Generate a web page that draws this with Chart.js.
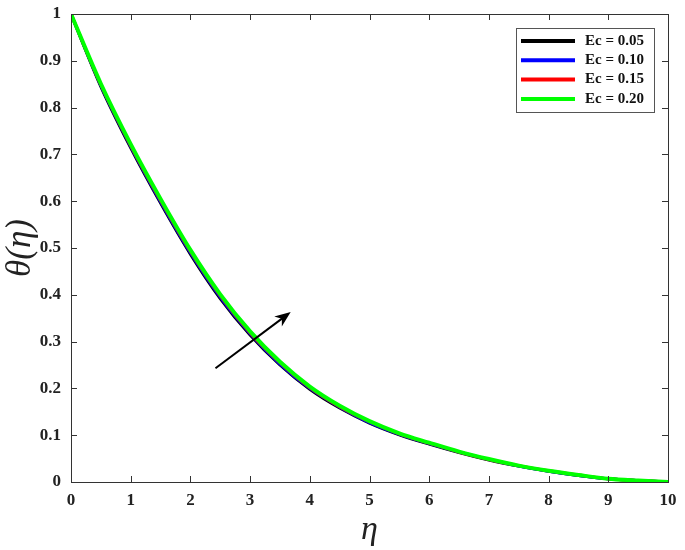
<!DOCTYPE html>
<html>
<head>
<meta charset="UTF-8">
<title>theta vs eta</title>
<script src="https://cdn.jsdelivr.net/npm/chart.js"></script>
<style>
  html, body { margin: 0; padding: 0; background: #fff; }
  #wrap { width: 685px; height: 550px; }
</style>
</head>
<body>
<div id="wrap"><canvas id="c"></canvas></div>
<script>
// --- data ---
const eta = [0, 0.5, 1, 1.5, 2, 2.5, 3, 3.5, 4, 4.5, 5, 5.5, 6, 6.5, 7, 7.5, 8, 8.5, 9, 9.5, 10];
const ec005 = [1.000, 0.845, 0.714, 0.596, 0.487, 0.392, 0.314, 0.250, 0.198, 0.158, 0.126, 0.101, 0.081, 0.063, 0.047, 0.034, 0.023, 0.014, 0.007, 0.003, 0.000];
const ec010 = [1.000, 0.847, 0.717, 0.599, 0.490, 0.395, 0.317, 0.252, 0.200, 0.160, 0.127, 0.102, 0.082, 0.064, 0.048, 0.034, 0.023, 0.014, 0.007, 0.003, 0.000];
const ec015 = [1.000, 0.849, 0.719, 0.602, 0.493, 0.398, 0.319, 0.255, 0.202, 0.161, 0.129, 0.103, 0.083, 0.064, 0.048, 0.035, 0.024, 0.015, 0.007, 0.003, 0.000];
const ec020 = [1.000, 0.851, 0.722, 0.605, 0.496, 0.401, 0.322, 0.257, 0.204, 0.163, 0.130, 0.104, 0.084, 0.065, 0.049, 0.035, 0.024, 0.015, 0.007, 0.003, 0.000];
const seriesLabels = ['Ec = 0.05', 'Ec = 0.10', 'Ec = 0.15', 'Ec = 0.20'];
const seriesColors = ['#000000', '#0000ff', '#ff0000', '#00ff00'];
const yTickLabels = ['0', '0.1', '0.2', '0.3', '0.4', '0.5', '0.6', '0.7', '0.8', '0.9', '1'];
const xTickLabels = ['0', '1', '2', '3', '4', '5', '6', '7', '8', '9', '10'];
// arrow showing increasing Ec (data coords)
const arrowFrom = { x: 2.42, y: 0.243 };
const arrowTo = { x: 3.68, y: 0.363 };

const serif = '"Liberation Serif", "Times New Roman", serif';
const axisCol = '#333333';

const pts = ys => eta.map((x, i) => ({ x: x, y: ys[i] }));
const allSeries = [ec005, ec010, ec015, ec020];

// box, inward ticks, arrow and legend
const decor = {
  id: 'decor',
  afterDatasetsDraw(chart) {
    const { ctx, chartArea: a, scales: { x, y } } = chart;
    ctx.save();
    // arrow
    const x0 = x.getPixelForValue(arrowFrom.x), y0 = y.getPixelForValue(arrowFrom.y);
    const x1 = x.getPixelForValue(arrowTo.x), y1 = y.getPixelForValue(arrowTo.y);
    const ang = Math.atan2(y1 - y0, x1 - x0);
    ctx.strokeStyle = '#000'; ctx.fillStyle = '#000'; ctx.lineWidth = 2;
    ctx.beginPath(); ctx.moveTo(x0, y0);
    ctx.lineTo(x1 - 8 * Math.cos(ang), y1 - 8 * Math.sin(ang)); ctx.stroke();
    ctx.beginPath();
    ctx.moveTo(x1, y1);
    ctx.lineTo(x1 - 17 * Math.cos(ang - 0.38), y1 - 17 * Math.sin(ang - 0.38));
    ctx.lineTo(x1 - 11 * Math.cos(ang), y1 - 11 * Math.sin(ang));
    ctx.lineTo(x1 - 17 * Math.cos(ang + 0.38), y1 - 17 * Math.sin(ang + 0.38));
    ctx.closePath(); ctx.fill();

    // axes box
    ctx.strokeStyle = axisCol; ctx.lineWidth = 1;
    ctx.strokeRect(a.left + 0.5, a.top + 0.5, a.right - a.left, a.bottom - a.top);
    // inward ticks
    ctx.beginPath();
    x.ticks.forEach(t => {
      const px = Math.round(x.getPixelForValue(t.value)) + 0.5;
      ctx.moveTo(px, a.bottom); ctx.lineTo(px, a.bottom - 6);
      ctx.moveTo(px, a.top); ctx.lineTo(px, a.top + 6);
    });
    y.ticks.forEach(t => {
      const py = Math.round(y.getPixelForValue(t.value)) + 0.5;
      ctx.moveTo(a.left, py); ctx.lineTo(a.left + 6, py);
      ctx.moveTo(a.right, py); ctx.lineTo(a.right - 6, py);
    });
    ctx.stroke();

    // legend box
    const lx = a.right - 152, ly = a.top + 14, lw = 138, lh = 84;
    ctx.fillStyle = '#fff';
    ctx.fillRect(lx, ly, lw, lh);
    ctx.strokeStyle = '#555'; ctx.lineWidth = 1;
    ctx.strokeRect(lx + 0.5, ly + 0.5, lw, lh);
    ctx.font = 'bold 15px ' + serif;
    ctx.textBaseline = 'middle';
    chart.data.datasets.forEach((ds, i) => {
      const ry = ly + 13 + i * 19.3;
      ctx.strokeStyle = ds.borderColor; ctx.lineWidth = 4;
      ctx.beginPath(); ctx.moveTo(lx + 5, ry); ctx.lineTo(lx + 59, ry); ctx.stroke();
      ctx.fillStyle = '#111';
      ctx.fillText(ds.label, lx + 69, ry);
    });
    ctx.restore();
  }
};

new Chart(document.getElementById('c'), {
  type: 'line',
  data: {
    datasets: allSeries.map((s, i) => ({
      label: seriesLabels[i],
      data: pts(s),
      borderColor: seriesColors[i],
      borderWidth: i === 3 ? 4 : 3,
      pointRadius: 0,
      cubicInterpolationMode: 'monotone',
      fill: false,
      order: 4 - i
    }))
  },
  options: {
    responsive: true,
    maintainAspectRatio: false,
    animation: false,
    layout: { padding: { top: 14, right: 17, left: 0, bottom: 0 } },
    plugins: { legend: { display: false }, tooltip: { enabled: false } },
    scales: {
      x: {
        type: 'linear', min: 0, max: 10,
        ticks: {
          stepSize: 1, padding: 8, color: '#222', maxRotation: 0,
          font: { family: serif, size: 17, weight: 'bold' },
          callback: (v) => xTickLabels[Math.round(v)]
        },
        grid: { display: false, drawTicks: false },
        border: { display: true, color: axisCol },
        title: {
          display: true, text: 'η', color: '#222',
          font: { family: serif, size: 34, style: 'italic' },
          padding: { top: 14, bottom: 0 }
        },
        afterFit: s => { s.height = 68; s.paddingLeft = 0; s.paddingRight = 0; }
      },
      y: {
        min: 0, max: 1,
        ticks: {
          stepSize: 0.1, padding: 10, color: '#222',
          font: { family: serif, size: 17, weight: 'bold' },
          callback: (v) => yTickLabels[Math.round(v * 10)]
        },
        grid: { display: false, drawTicks: false },
        border: { display: true, color: axisCol },
        title: {
          display: true, text: 'θ(η)', color: '#222',
          font: { family: serif, size: 35, style: 'italic' },
          padding: { top: 0, bottom: 0 }
        },
        afterFit: s => { s.width = 71; s.paddingTop = 0; s.paddingBottom = 0; }
      }
    }
  },
  plugins: [decor]
});
</script>
</body>
</html>
